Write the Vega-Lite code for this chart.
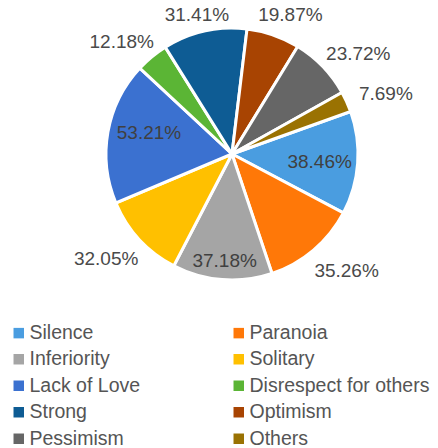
{
  "$schema": "https://vega.github.io/schema/vega-lite/v6.json",
  "autosize": "none",
  "width": 412,
  "height": 308,
  "padding": {"left": 26, "top": 0, "right": 0, "bottom": 140},
  "background": "white",
  "config": {"view": {"stroke": null}, "font": "Liberation Sans"},
  "data": {
    "values": [
      {"idx": 1, "category": "Silence", "value": 38.46, "label": "38.46%"},
      {"idx": 2, "category": "Paranoia", "value": 35.26, "label": "35.26%"},
      {"idx": 3, "category": "Inferiority", "value": 37.18, "label": "37.18%"},
      {"idx": 4, "category": "Solitary", "value": 32.05, "label": "32.05%"},
      {"idx": 5, "category": "Lack of Love", "value": 53.21, "label": "53.21%"},
      {"idx": 6, "category": "Disrespect for others", "value": 12.18, "label": "12.18%"},
      {"idx": 7, "category": "Strong", "value": 31.41, "label": "31.41%"},
      {"idx": 8, "category": "Optimism", "value": 19.87, "label": "19.87%"},
      {"idx": 9, "category": "Pessimism", "value": 23.72, "label": "23.72%"},
      {"idx": 10, "category": "Others", "value": 7.69, "label": "7.69%"}
    ]
  },
  "encoding": {
    "theta": {"field": "value", "type": "quantitative", "stack": true, "scale": {"range": [1.227, 7.510]}},
    "order": {"field": "idx", "type": "quantitative"},
    "detail": {"field": "category"}
  },
  "layer": [
    {
      "mark": {"type": "arc", "outerRadius": 126, "stroke": "white", "strokeWidth": 3},
      "encoding": {
        "color": {
          "field": "category",
          "type": "nominal",
          "scale": {
            "domain": ["Silence", "Inferiority", "Lack of Love", "Strong", "Pessimism", "Paranoia", "Solitary", "Disrespect for others", "Optimism", "Others"],
            "range": ["#4a9de0", "#a5a5a5", "#3b71d0", "#0e5c94", "#666666", "#ff7808", "#ffc000", "#5bb535", "#a84402", "#9a7202"]
          },
          "legend": {
            "orient": "none",
            "legendX": -17,
            "legendY": 323,
            "title": null,
            "columns": 2,
            "columnPadding": 88,
            "rowPadding": 5.5,
            "padding": 0,
            "symbolType": "square",
            "symbolSize": 110,
            "symbolStrokeWidth": 0,
            "labelFontSize": 19.5,
            "labelFont": "Liberation Sans",
            "labelColor": "#555555",
            "labelOffset": 1,
            "labelLimit": 300
          }
        }
      }
    },
    {
      "mark": {"type": "text", "radius": 157, "thetaOffset": -0.089, "fontSize": 19, "color": "#4a4a4a"},
      "encoding": {"text": {"condition": {"test": "datum.category === 'Disrespect for others'", "field": "label"}, "value": ""}}
    },
    {
      "mark": {"type": "text", "radius": 143.5, "thetaOffset": -0.028, "fontSize": 19, "color": "#4a4a4a"},
      "encoding": {"text": {"condition": {"test": "datum.category === 'Strong'", "field": "label"}, "value": ""}}
    },
    {
      "mark": {"type": "text", "radius": 151, "thetaOffset": 0.063, "fontSize": 19, "color": "#4a4a4a"},
      "encoding": {"text": {"condition": {"test": "datum.category === 'Optimism'", "field": "label"}, "value": ""}}
    },
    {
      "mark": {"type": "text", "radius": 161, "thetaOffset": 0.097, "fontSize": 19, "color": "#4a4a4a"},
      "encoding": {"text": {"condition": {"test": "datum.category === 'Pessimism'", "field": "label"}, "value": ""}}
    },
    {
      "mark": {"type": "text", "radius": 165, "thetaOffset": 0.058, "fontSize": 19, "color": "#4a4a4a"},
      "encoding": {"text": {"condition": {"test": "datum.category === 'Others'", "field": "label"}, "value": ""}}
    },
    {
      "mark": {"type": "text", "radius": 164, "thetaOffset": -0.07, "fontSize": 19, "color": "#4a4a4a"},
      "encoding": {"text": {"condition": {"test": "datum.category === 'Paranoia'", "field": "label"}, "value": ""}}
    },
    {
      "mark": {"type": "text", "radius": 164, "thetaOffset": 0.049, "fontSize": 19, "color": "#4a4a4a"},
      "encoding": {"text": {"condition": {"test": "datum.category === 'Solitary'", "field": "label"}, "value": ""}}
    },
    {
      "mark": {"type": "text", "radius": 107.7, "thetaOffset": -0.01, "fontSize": 19, "color": "#404040"},
      "encoding": {"text": {"condition": {"test": "datum.category === 'Inferiority'", "field": "label"}, "value": ""}}
    },
    {
      "mark": {"type": "text", "radius": 85.5, "thetaOffset": 0.068, "fontSize": 19, "color": "#404040"},
      "encoding": {"text": {"condition": {"test": "datum.category === 'Lack of Love'", "field": "label"}, "value": ""}}
    },
    {
      "mark": {"type": "text", "radius": 88, "thetaOffset": 0.014, "fontSize": 19, "color": "#404040"},
      "encoding": {"text": {"condition": {"test": "datum.category === 'Silence'", "field": "label"}, "value": ""}}
    }
  ]
}
